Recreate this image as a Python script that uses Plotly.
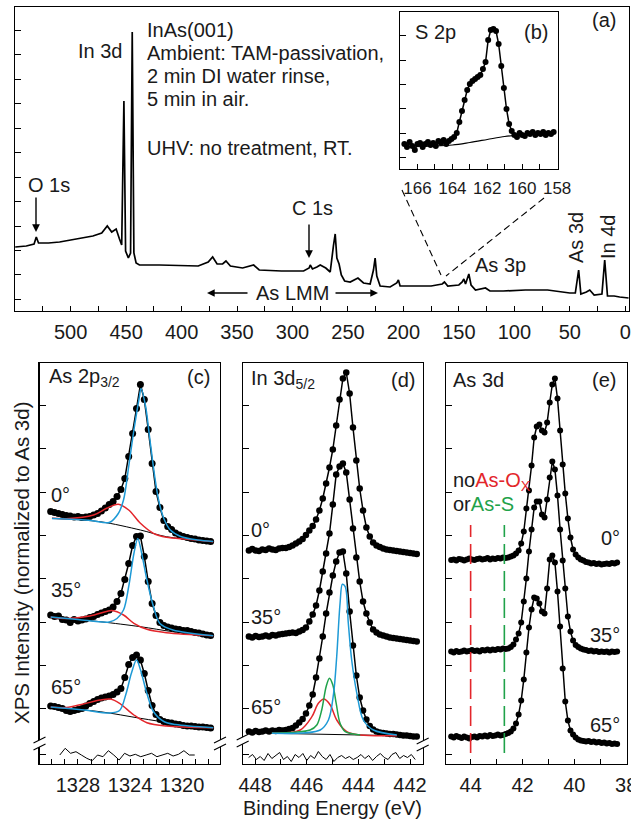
import plotly.graph_objects as go

W, H = 631, 827
FONT = "Liberation Sans, Arial, Helvetica, sans-serif"
BLUE, RED, GREEN = "#1e9ad6", "#e3262b", "#1fa24a"

# ---------------- (a) survey spectrum ----------------
SURVEY_E = [550, 540, 533, 531, 529, 520, 510, 500, 490, 480, 472, 467, 463, 459, 456,
            454, 452, 450.5, 448, 446, 444.5, 443, 441, 438, 420, 400, 385, 376, 372, 368,
            363, 360, 356, 345, 335, 330, 310, 290, 285, 284, 282, 278, 275, 270, 266,
            263, 261.5, 260, 258, 256, 253, 248, 241, 236, 230, 227, 225.5, 224, 221, 212,
            206, 204.5, 203, 195, 185, 175, 165, 163, 160, 150, 147, 145.5, 144, 141, 139,
            135, 126, 122, 110, 90, 70, 58, 50, 45, 42, 40, 35, 32, 28, 21,
            18.5, 16, 10, 5, 0, -3]
SURVEY_I = [64, 65, 67, 74, 68, 68, 69, 71, 73, 75, 78, 85, 79, 82, 72,
            66, 210, 60, 53, 58, 279, 58, 48, 46, 46, 45, 45, 49, 54, 47,
            47, 50, 45, 43, 46, 41, 40, 40, 43, 46, 42, 44, 46, 43, 39,
            66, 77, 53, 47, 36, 30, 29, 33, 28, 27, 41, 53, 35, 25, 24,
            28, 31, 25, 25, 25, 25, 27, 29, 25, 26, 29, 32, 27, 37, 26,
            21, 23, 20, 20, 21, 21, 19, 18, 18, 41, 17, 19, 21, 16, 17,
            51, 15, 15, 14, 13, 13]

# ---------------- (b) S 2p inset ----------------
S2P_E_START, S2P_E_STEP = 166.75, 0.15
S2P_I = [24, 21, 26, 22, 18, 24, 25, 21, 24, 26, 23, 25, 22, 27, 25, 28, 24, 27, 29, 31,
         35, 46, 57, 68, 78, 84, 87, 89, 91, 93, 99, 106, 128, 138, 139, 137, 124, 102, 80, 59,
         44, 37, 33, 31, 35, 33, 32, 35, 34, 36, 33, 35, 34, 36, 33, 35, 34, 36]
S2P_BG_E = [166.7, 164.0, 163.0, 162.0, 161.0, 160.0, 158.2]
S2P_BG_I = [21, 23, 25.5, 28.5, 31.5, 33, 34.5]

# ---------------- (c) As 2p3/2 ----------------
AS2P_E_START, AS2P_E_STEP = 1330.1, 0.3
AS2P_0 = [252, 251, 250, 249, 248, 247.5, 246.5, 247, 246, 246.5, 247, 248.5, 250, 252.5,
          255.5, 259, 262, 267, 274, 285, 307, 330, 355, 379, 364, 334, 300, 272, 256, 243,
          237, 234, 230.5, 228.5, 227, 226, 225, 224.5, 223.5, 223, 222.5, 222]
AS2P_35 = [148.5, 147, 147.5, 144, 143.5, 141, 144, 142.5, 143.5, 144.5, 146, 147, 149, 150.5,
           152, 153.5, 156.5, 162, 170, 184, 200, 218, 227, 227.5, 207, 182, 160, 148, 141, 138,
           136.5, 135.5, 134.5, 134, 133, 133, 132, 131, 130.5, 129.5, 128.5, 128]
AS2P_65 = [57.5, 57, 56, 55, 53, 52, 53, 54, 55, 57.5, 60, 62, 64, 65.5,
           66.5, 67.5, 69, 71.5, 75, 86, 99, 106, 108.5, 103.5, 90, 73, 58, 49, 44, 42,
           41, 40.5, 39.5, 39, 38, 37.5, 37.5, 37, 36.5, 36.5, 36, 35.5]
C0_BG_E = [1330.0, 1326.3, 1323.2, 1321.2, 1317.6]
C0_BG_I = [245.2, 241.8, 233.5, 226.8, 221.8]
C0_BLUE_E = [1330.0, 1327.0, 1325.6, 1324.9, 1324.5, 1324.1, 1323.7, 1323.3, 1323.15, 1322.8,
             1322.5, 1322.1, 1321.8, 1321.4, 1320.9, 1320.1, 1318.8, 1317.6]
C0_BLUE_I = [245, 243, 241, 250, 263.5, 297, 333.5, 365, 375, 357, 327, 287, 263.5, 245,
             233.5, 227, 223.5, 222]
C0_RED_E = [1330.0, 1328.9, 1326.8, 1325.8, 1324.9, 1324.1, 1323.2, 1322.2, 1321.2, 1319.6, 1317.6]
C0_RED_I = [245.2, 244.8, 248.5, 255.2, 259.2, 253.5, 240.2, 230.2, 226.2, 224.2, 221.8]
C35_BG_E = [1330.1, 1326.3, 1323.2, 1320.7, 1317.6]
C35_BG_I = [146.5, 141.8, 136.8, 131.8, 127.8]
C35_BLUE_E = [1330.1, 1328.0, 1325.6, 1325.0, 1324.5, 1324.1, 1323.7, 1323.4, 1323.1, 1322.7,
              1322.2, 1321.7, 1320.7, 1317.6]
C35_BLUE_I = [146.5, 144, 141.5, 145, 153.5, 177, 210, 225, 210, 183.5, 157, 140, 133.5, 127.8]
C35_RED_E = [1330.1, 1328.9, 1327.1, 1325.8, 1325.4, 1324.5, 1323.7, 1322.7, 1321.2, 1317.6]
C35_RED_I = [146.5, 145, 147.5, 152, 153, 148.5, 140.2, 134.2, 130.8, 127.8]
C65_BG_E = [1330.1, 1326.3, 1323.2, 1320.7, 1317.6]
C65_BG_I = [56.5, 51.8, 45.2, 40.2, 35.8]
C65_BLUE_E = [1330.1, 1327.5, 1325.6, 1324.8, 1324.3, 1323.9, 1323.5, 1323.2, 1322.7, 1322.2,
              1321.4, 1320.5, 1317.6]
C65_BLUE_I = [56.5, 53.5, 50.5, 53, 70, 90, 103.5, 94, 70, 52, 42, 39, 35.8]
C65_RED_E = [1330.1, 1328.9, 1327.6, 1326.3, 1325.5, 1324.8, 1323.7, 1322.7, 1321.2, 1317.6]
C65_RED_I = [56.5, 56, 59.5, 63.5, 64.5, 60.2, 48.5, 40.8, 37.5, 35.8]
C_RES_E_START, C_RES_E_STEP = 1329.4, 0.415
C_RES_I = [8.5, 15.2, 10.2, 11.8, 8.5, 5.2, 2.8, 8.5, 6.8, 12.8, 8.5, 3.5, 10.2, 7.5, 9.2,
           6.8, 8.5, 10.2, 6.8, 8.5, 10.2, 7.5, 9.2, 12.8, 8.5, 8.5]

# ---------------- (d) In 3d5/2 ----------------
IN3D_E_START, IN3D_E_STEP = 448.24, 0.13
IN3D_0 = [213, 214.5, 213, 212.5, 214, 213.5, 215, 214, 213.5, 215, 215.5, 215.5, 216.5, 218,
          220, 222, 224.5, 228.5, 233, 237.5, 244, 253, 265, 280, 296, 314, 338, 364, 385, 391,
          370, 336, 303, 275, 253, 236, 227, 221, 218, 216.5, 215, 214, 213.5, 213, 212.5, 212,
          211.5, 211, 210.5, 210, 209.5]
IN3D_35 = [127, 126, 127.5, 126.5, 127, 128, 127, 128.5, 128, 129, 129.5, 130, 130.5, 131,
           130.5, 132, 133.5, 136, 142, 149, 158, 173, 192, 210, 230, 259, 289, 297, 300, 291,
           264, 235, 206, 182, 162, 150, 141, 134, 131, 129, 128, 127, 126, 125.5, 125, 124.5,
           124, 123.5, 123, 122.5, 122]
IN3D_65 = [32, 31, 32.5, 31.5, 32, 33, 32, 33, 32.5, 33.5, 33, 33.5, 34.5, 35.5,
           38, 41, 44.5, 50, 58, 69, 86, 105, 127, 150, 171, 188, 202, 211, 212, 190,
           152, 118, 88, 66, 53, 44, 37.5, 34, 32, 31, 30.5, 30, 29.5, 29.5, 29, 28.5,
           28, 28, 27.5, 27, 27]
D_BLUE_E = [447.35, 445.48, 445.16, 444.96, 444.84, 444.71, 444.62, 444.51, 444.39, 444.26,
            444.06, 443.81, 443.42, 442.51]
D_BLUE_I = [30.2, 33.5, 43.5, 70.2, 106.8, 160.2, 179.2, 176.8, 140.2, 103.5, 70.2, 43.5, 33.5, 28.5]
D_GREEN_E = [447.35, 445.87, 445.61, 445.42, 445.25, 445.12, 444.99, 444.86, 444.71, 444.51, 443.93]
D_GREEN_I = [30.2, 33.5, 38.5, 53.5, 76.8, 85.2, 78.5, 60.2, 40.2, 31.8, 28.5]
D_RED_E = [447.35, 446.25, 445.80, 445.55, 445.33, 445.09, 444.84, 444.45, 443.93, 442.51]
D_RED_I = [30.2, 33.5, 46.8, 60.2, 64.5, 58.5, 43.5, 31.8, 28.5, 27.8]
D_BG_E = [447.35, 442.51]
D_BG_I = [30.2, 27.8]
D_RES_E_START, D_RES_E_STEP = 448.25, 0.15
D_RES_I = [6, 9, 4, 7, 3, 10, 5, 8, 11, 4, 7, 2, 9, 6, 10, 3, 8, 5, 12, 7, 4, 9, 2, 6, 8,
           5, 7, 4, 6, 9, 5, 8, 3, 7, 10, 6, 4, 9, 11, 5, 8, 6, 9, 4]

# ---------------- (e) As 3d ----------------
AS3D_E_START, AS3D_E_STEP = 44.75, 0.1
AS3D_0 = [203.5, 204, 203, 204.5, 204, 203, 204, 205, 204, 203.5, 204.5, 205, 204, 204.5,
          205.5, 204, 205, 204.5, 205.5, 205, 206, 205.5, 206, 207, 208, 210, 213, 220, 232,
          255, 273, 298, 326, 337, 339, 333, 331, 341, 361, 379, 385, 365, 333, 299, 270, 245,
          226, 214, 209, 206, 204, 203, 201.5, 201, 200, 200.5, 199.5, 200, 199, 199.5, 200,
          199.5, 200.5, 200, 201]
AS3D_35 = [112, 111, 112.5, 111.5, 112, 113, 112, 112.5, 113.5, 112.5, 113, 112, 113.5, 113,
           114, 113, 114, 113.5, 114.5, 114, 115, 114.5, 115, 116.5, 119, 124, 130, 141, 162,
           185, 212, 234, 256, 262, 262, 249, 246, 264, 286, 302, 294, 268, 234, 203, 175, 147,
           132, 123, 118.5, 116.5, 115, 114, 113.5, 112.5, 113, 112, 112.5, 111.5, 112, 111.5,
           112, 111, 112, 111.5, 112]
AS3D_65 = [27, 26, 27.5, 26.5, 25.5, 27, 26, 25, 26.5, 27, 26, 27.5, 27, 28, 27, 28.5, 27.5,
           28, 29, 28, 28.5, 29.5, 30.5, 32, 35, 40, 49, 63, 84, 111, 136, 154, 166, 165, 160,
           152, 150, 175, 204, 208, 201, 172, 137, 95, 62, 43, 33, 29, 26, 24, 23, 22.5, 22,
           22.5, 21.5, 22, 21, 21.5, 20.5, 21, 20, 20.5, 19.5, 20, 19.5]
REF_E = [44.0, 42.7]          # As-Ox and As-S reference binding energies
REF_I = [10.5, 238.5]         # vertical extent of the reference markers
ANGLES = ["0°", "35°", "65°"]


def grid(start, step, n):
    return [round(start - k * step, 4) for k in range(n)]


def PX(x):
    return x / W


def PY(y):
    return 1 - y / H


fig = go.Figure()


def spec(e, i, ax, size=6.5, width=1.5):
    fig.add_trace(go.Scatter(x=e, y=i, mode="lines+markers", xaxis="x" + ax, yaxis="y" + ax,
                             line=dict(color="black", width=width),
                             marker=dict(color="black", size=size), showlegend=False,
                             hoverinfo="skip"))


def curve(e, i, ax, color, width=1.5, smooth=True):
    fig.add_trace(go.Scatter(x=e, y=i, mode="lines", xaxis="x" + ax, yaxis="y" + ax,
                             line=dict(color=color, width=width,
                                       shape="spline" if smooth else "linear",
                                       smoothing=0.9),
                             showlegend=False, hoverinfo="skip"))


# (a)
curve(SURVEY_E, SURVEY_I, "", "black", width=1.7, smooth=False)
# (b)
spec(grid(S2P_E_START, S2P_E_STEP, len(S2P_I)), S2P_I, "2", size=6)
curve(S2P_BG_E, S2P_BG_I, "2", "black", width=1.2)
# (c)
ce = grid(AS2P_E_START, AS2P_E_STEP, len(AS2P_0))
for ys, bge, bgi, be, bi, re_, ri in [
        (AS2P_0, C0_BG_E, C0_BG_I, C0_BLUE_E, C0_BLUE_I, C0_RED_E, C0_RED_I),
        (AS2P_35, C35_BG_E, C35_BG_I, C35_BLUE_E, C35_BLUE_I, C35_RED_E, C35_RED_I),
        (AS2P_65, C65_BG_E, C65_BG_I, C65_BLUE_E, C65_BLUE_I, C65_RED_E, C65_RED_I)]:
    spec(ce, ys, "3", size=7)
    curve(bge, bgi, "3", "black", width=1.0)
    curve(re_, ri, "3", RED)
    curve(be, bi, "3", BLUE)
curve(grid(C_RES_E_START, C_RES_E_STEP, len(C_RES_I)), C_RES_I, "3", "black", width=1.0, smooth=False)
# (d)
de = grid(IN3D_E_START, IN3D_E_STEP, len(IN3D_0))
for ys in [IN3D_0, IN3D_35, IN3D_65]:
    spec(de, ys, "4", size=6.5)
curve(D_BG_E, D_BG_I, "4", "black", width=1.0, smooth=False)
curve(D_RED_E, D_RED_I, "4", RED)
curve(D_GREEN_E, D_GREEN_I, "4", GREEN)
curve(D_BLUE_E, D_BLUE_I, "4", BLUE)
curve(grid(D_RES_E_START, D_RES_E_STEP, len(D_RES_I)), D_RES_I, "4", "black", width=1.0, smooth=False)
# (e)
ee = grid(AS3D_E_START, AS3D_E_STEP, len(AS3D_0))
for ys in [AS3D_0, AS3D_35, AS3D_65]:
    spec(ee, ys, "5", size=6)
for e_ref, col in zip(REF_E, [RED, GREEN]):
    fig.add_trace(go.Scatter(x=[e_ref, e_ref], y=REF_I, mode="lines", xaxis="x5", yaxis="y5",
                             line=dict(color=col, width=1.6, dash="20px,7px"),
                             showlegend=False, hoverinfo="skip"))

# ---------------- axes ----------------


def xax(x0, x1, rng, vals, texts, anchor, size=20, standoff=3):
    return dict(domain=[PX(x0), PX(x1)], range=rng, anchor=anchor, showline=True,
                linecolor="black", linewidth=1.2, mirror=True, ticks="inside", ticklen=5,
                tickwidth=1, tickcolor="black", tickmode="array", tickvals=vals,
                ticktext=texts, tickfont=dict(family=FONT, size=size, color="#1a1a1a"),
                showgrid=False, zeroline=False, ticklabelstandoff=standoff,
                ticklabeloverflow="allow", automargin=False, fixedrange=True)


def yax(y_top, y_bot, rng, vals, anchor):
    return dict(domain=[PY(y_bot), PY(y_top)], range=rng, anchor=anchor, showline=True,
                linecolor="black", linewidth=1.2, mirror=True, ticks="inside", ticklen=6,
                tickwidth=1, tickcolor="black", tickmode="array", tickvals=vals,
                showticklabels=False, showgrid=False, zeroline=False, automargin=False,
                fixedrange=True)


a_ticks = list(range(525, -1, -25))
a_text = [str(v) if v % 50 == 0 else "" for v in a_ticks]
b_ticks = list(range(166, 157, -1))
b_text = [str(v) if v % 2 == 0 else "" for v in b_ticks]
c_ticks = list(range(1330, 1317, -1))
c_text = [str(v) if v % 4 == 0 else "" for v in c_ticks]
d_ticks = list(range(448, 441, -1))
d_text = [str(v) if v % 2 == 0 else "" for v in d_ticks]
e_ticks = list(range(44, 37, -1))
e_text = [str(v) if v % 2 == 0 else "" for v in e_ticks]
BOT_Y_TICKS = [9.5, 55.5, 98.5, 141.5, 185, 228.5, 271.5, 315, 358.5]

fig.update_layout(
    template="none",
    width=W, height=H, autosize=False,
    margin=dict(l=0, r=0, t=0, b=0, pad=0),
    paper_bgcolor="white", plot_bgcolor="white",
    font=dict(family=FONT, size=20, color="#1a1a1a"),
    xaxis=xax(15, 629, [550.2, -3.4], a_ticks, a_text, "y"),
    yaxis=yax(7, 311, [0, 304], [12, 37, 61, 85, 110, 134, 159, 183, 208, 232, 257, 281], "x"),
    xaxis2=xax(400, 558, [167.0, 157.95], b_ticks, b_text, "y2", size=17),
    yaxis2=yax(12, 169, [-1, 156], [11, 35, 60, 84, 108, 133], "x2"),
    xaxis3=xax(39.5, 220, [1330.96, 1317.08], c_ticks, c_text, "y3"),
    yaxis3=yax(362.7, 763.5, [0, 400.8], BOT_Y_TICKS, "x3"),
    xaxis4=xax(242.7, 422.7, [448.48, 441.51], d_ticks, d_text, "y4"),
    yaxis4=yax(362.7, 763.5, [0, 400.8], BOT_Y_TICKS, "x4"),
    xaxis5=xax(446, 627, [44.95, 37.97], e_ticks, e_text, "y5"),
    yaxis5=yax(362.7, 763.5, [0, 400.8], BOT_Y_TICKS, "x5"),
)

# ---------------- annotations ----------------
ann = []


def txt(x, y, s, size=20, xanchor="left", color="#1a1a1a", angle=0):
    ann.append(dict(x=PX(x), y=PY(y), xref="paper", yref="paper", text=s, showarrow=False,
                    xanchor=xanchor, yanchor="middle", textangle=angle,
                    font=dict(family=FONT, size=size, color=color)))


def arrow(xt, yt, dx, dy):
    ann.append(dict(x=PX(xt), y=PY(yt), xref="paper", yref="paper", text="", showarrow=True,
                    ax=dx, ay=dy, arrowhead=2, arrowsize=1.1, arrowwidth=1.4,
                    arrowcolor="black"))


for y, s in zip([30, 53, 76, 99, 148],
                ["InAs(001)", "Ambient: TAM-passivation,", "2 min DI water rinse,",
                 "5 min in air.", "UHV: no treatment, RT."]):
    txt(145, y, s)
txt(124, 51, "In 3d", xanchor="right")
txt(49, 185, "O 1s", xanchor="center")
arrow(36, 232, 0, -36)
txt(312, 208, "C 1s", xanchor="center")
arrow(309, 258, 0, -35)
txt(292, 293, "As LMM", xanchor="center")
arrow(207, 293, 42, 0)
arrow(378, 293, -44, 0)
txt(500, 265, "As 3p", xanchor="center")
txt(576, 238, "As 3d", xanchor="center", angle=-90)
txt(608, 237, "In 4d", xanchor="center", angle=-90)
txt(618, 20, "(a)", xanchor="right")
txt(413, 32, "S 2p")
txt(550, 32, "(b)", xanchor="right")

txt(47, 377, "As 2p<sub>3/2</sub>")
txt(212, 377, "(c)", xanchor="right")
for y, s in zip([495, 590, 687], ANGLES):
    txt(49, y, s)
txt(249, 380, "In 3d<sub>5/2</sub>")
txt(417, 380, "(d)", xanchor="right")
for y, s in zip([530, 617, 707], ANGLES):
    txt(249, y, s)
txt(451, 380, "As 3d")
txt(618, 380, "(e)", xanchor="right")
txt(451, 481, "no<span style='color:%s'>As-O<sub>X</sub></span>" % RED)
txt(451, 504, "or<span style='color:%s'>As-S</span>" % GREEN)
for y, s in zip([538, 635, 725], ANGLES):
    txt(622, y, s, xanchor="right")

txt(332, 808, "Binding Energy (eV)", xanchor="center")
txt(21, 563, "XPS Intensity (normalized to As 3d)", xanchor="center", angle=-90, size=20.5)

# ---------------- shapes: zoom lines and axis breaks ----------------
shapes = [
    dict(type="line", xref="paper", yref="paper", x0=PX(402), y0=PY(190), x1=PX(441), y1=PY(275),
         line=dict(color="black", width=1.1, dash="7px,4px")),
    dict(type="line", xref="paper", yref="paper", x0=PX(544), y0=PY(198), x1=PX(446), y1=PY(276),
         line=dict(color="black", width=1.1, dash="7px,4px")),
]
for xe, yb in [(39.5, 744), (220, 744), (242.7, 741), (422.7, 745)]:
    path = "M %f,%f L %f,%f L %f,%f L %f,%f Z" % (
        PX(xe - 6), PY(yb - 1), PX(xe + 6), PY(yb - 7), PX(xe + 6), PY(yb), PX(xe - 6), PY(yb + 6))
    shapes.append(dict(type="path", xref="paper", yref="paper", path=path,
                       fillcolor="white", line=dict(width=0)))
    for d in (0, 7):
        shapes.append(dict(type="line", xref="paper", yref="paper",
                           x0=PX(xe - 6), y0=PY(yb - 1 + d), x1=PX(xe + 6), y1=PY(yb - 7 + d),
                           line=dict(color="black", width=1.1)))

fig.update_layout(annotations=ann, shapes=shapes)
fig.write_html("out.html", config={"displayModeBar": False, "staticPlot": True},
               post_script="document.body.style.margin='0px';document.body.style.padding='0px';")
